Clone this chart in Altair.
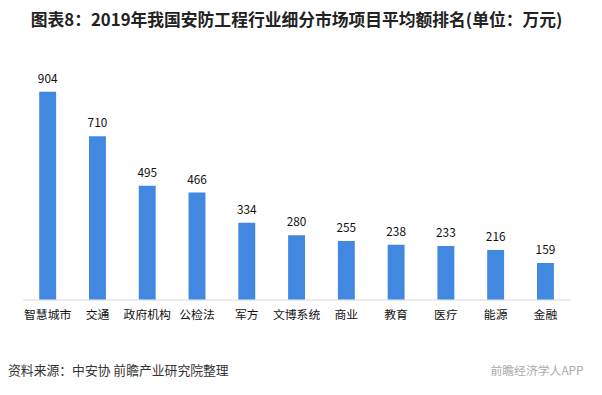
import altair as alt
import pandas as pd

categories = ["智慧城市", "交通", "政府机构", "公检法", "军方", "文博系统", "商业", "教育", "医疗", "能源", "金融"]
values = [904, 710, 495, 466, 334, 280, 255, 238, 233, 216, 159]

df = pd.DataFrame({"cat": categories, "val": values})
FONT = "Noto Sans CJK SC"

base = alt.Chart(df)
x = alt.X("cat:N", sort=None, title=None,
          scale=alt.Scale(paddingInner=0.66, paddingOuter=0.33),
          axis=alt.Axis(labelAngle=0, ticks=False, domainColor="#d9d9d9", domainWidth=1,
                        labelFontSize=12, labelColor="#111111", labelFont=FONT, labelPadding=10))
y = alt.Y("val:Q", title=None, scale=alt.Scale(domain=[0, 1000]), axis=None)

bars = base.mark_bar(color="#4388E0").encode(x=x, y=y)
labels = base.mark_text(dy=-13, fontSize=12, font=FONT, color="#111111").encode(x=x, y=y, text="val:Q")

notes = pd.DataFrame({"t": ["资料来源：中安协 前瞻产业研究院整理"]})
src = alt.Chart(notes).mark_text(align="left", baseline="middle", fontSize=13, font=FONT, color="#333333").encode(
    x=alt.value(-15), y=alt.value(305), text="t:N")
notes2 = pd.DataFrame({"t": ["前瞻经济学人APP"]})
src2 = alt.Chart(notes2).mark_text(align="left", baseline="middle", fontSize=12, font=FONT, color="#aaaaaa").encode(
    x=alt.value(474), y=alt.value(305), text="t:N")

chart = alt.layer(bars, labels, src, src2).properties(
    width=555, height=233,
    title=alt.TitleParams("图表8：2019年我国安防工程行业细分市场项目平均额排名(单位：万元)",
                          anchor="middle", fontSize=17, font=FONT, fontWeight="bold", color="#222222", offset=40),
    autosize=alt.AutoSizeParams(type="none"),
    padding={"left": 15, "top": 60, "right": 24, "bottom": 80},
).configure_view(stroke=None)

chart.save("out.html", embed_options={"renderer": "svg", "actions": False})
